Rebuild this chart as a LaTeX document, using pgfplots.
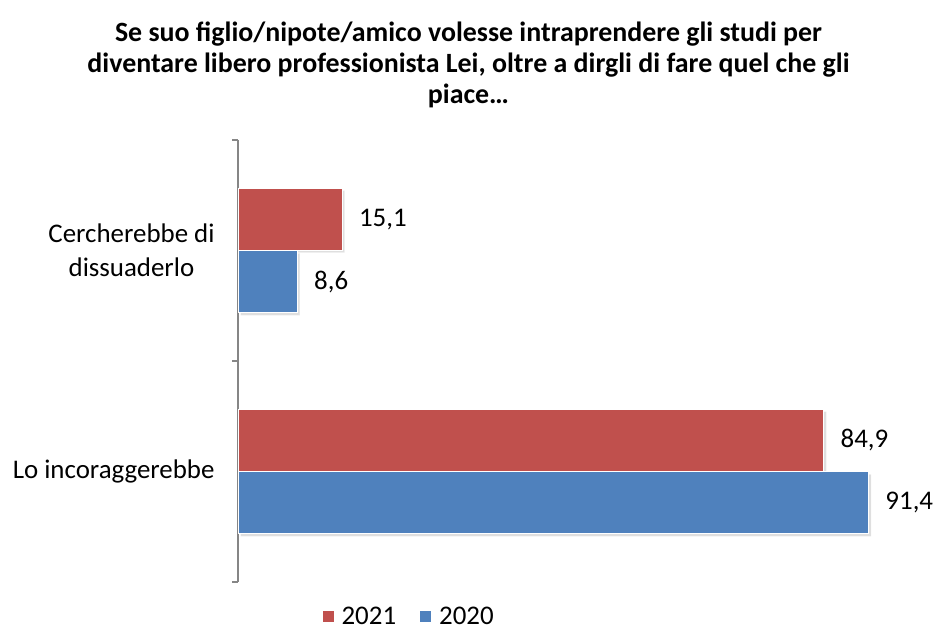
\documentclass[border=0pt]{standalone}
\usepackage{fontspec}
\setmainfont{Carlito}
\usepackage{pgfplots}
\pgfplotsset{compat=1.18}
\usetikzlibrary{shadows}

\definecolor{red21}{HTML}{C0504D}
\definecolor{blue20}{HTML}{4F81BD}
\definecolor{axgray}{HTML}{868686}

\begin{document}
\begin{tikzpicture}
\useasboundingbox (0,0) rectangle (937bp,629bp);

\node[align=center, font=\fontsize{28}{31}\selectfont\bfseries] at (468.5bp,564bp)
  {Se suo figlio/nipote/amico volesse intraprendere gli studi per\\
   diventare libero professionista Lei, oltre a dirgli di fare quel che gli\\
   piace…};

\begin{axis}[
    at={(238bp,47bp)}, anchor=south west,
    scale only axis,
    width=690bp, height=442bp,
    xmin=0, xmax=100,
    ymin=-0.5, ymax=1.5,
    axis x line=none,
    axis y line*=left,
    y axis line style={axgray, line width=1.2bp},
    ytick={0,1},
    yticklabels={Lo incoraggerebbe, {Cercherebbe di\\dissuaderlo}},
    major tick length=0pt,
    yticklabel style={align=center, font=\fontsize{27}{34}\selectfont, xshift=-20bp},
    extra y ticks={-0.5,0.5,1.5},
    extra y tick labels={},
    extra y tick style={major tick length=6bp, tick align=outside,
        tick style={axgray, line width=1.2bp}},
    xbar, bar width=0.28,
    clip=false,
    nodes near coords,
    nodes near coords style={anchor=west, xshift=13bp, black,
        font=\fontsize{27}{32}\selectfont,
        /pgf/number format/.cd, fixed, fixed zerofill, precision=1, use comma,
        assume math mode=true},
    legend style={at={(axis description cs:0.248,-0.077)}, anchor=center, draw=none,
        fill=none, legend columns=2, font=\fontsize{27}{32}\selectfont,
        /tikz/every odd column/.append style={column sep=6bp},
        /tikz/every even column/.append style={column sep=22bp}},
    legend cell align=left,
    legend image code/.code={\fill[#1] (0bp,-5.5bp) rectangle (11bp,5.5bp);},
]
\addlegendimage{fill=red21, draw=none}
\addlegendentry{2021}
\addlegendimage{fill=blue20, draw=none}
\addlegendentry{2020}

\addplot[forget plot, bar shift=0.142, fill=red21, draw=white, line width=1bp,
    drop shadow={shadow xshift=2.5bp, shadow yshift=-2.5bp, opacity=0.25}]
  coordinates {(84.9,0) (15.1,1)};
\addplot[forget plot, bar shift=-0.142, fill=blue20, draw=white, line width=1bp,
    drop shadow={shadow xshift=2.5bp, shadow yshift=-2.5bp, opacity=0.25}]
  coordinates {(91.4,0) (8.6,1)};
\end{axis}
\end{tikzpicture}
\end{document}
